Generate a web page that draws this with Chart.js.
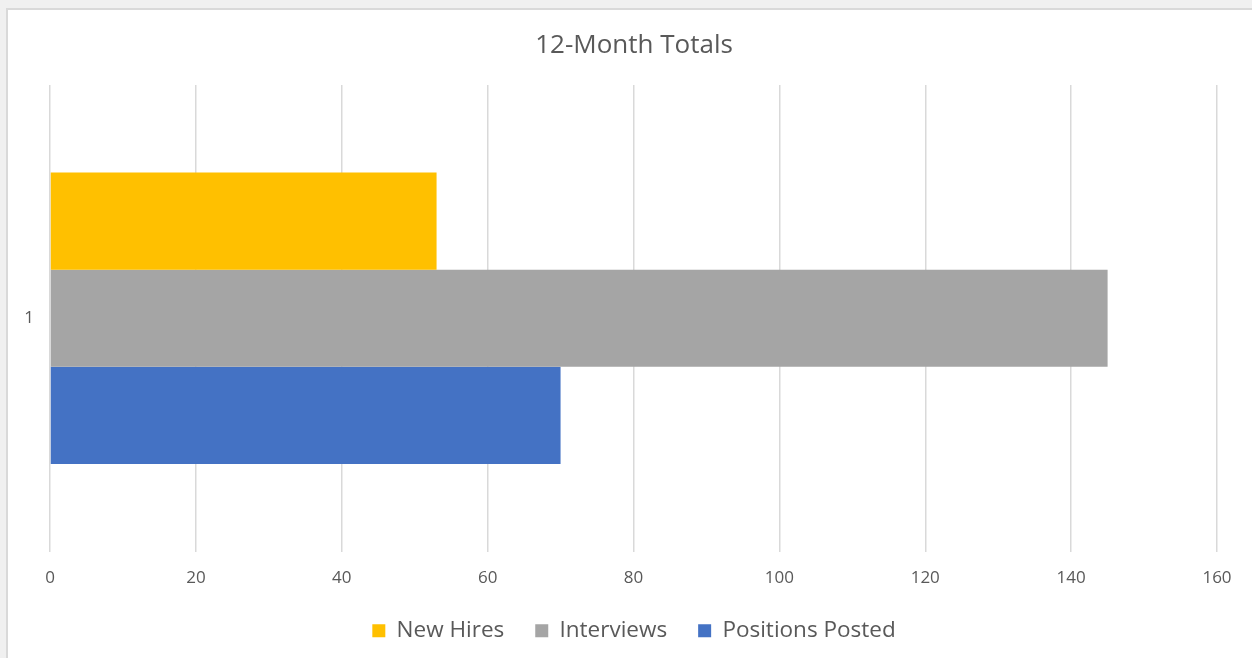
<!DOCTYPE html>
<html>
<head>
<meta charset="utf-8">
<script src="https://cdn.jsdelivr.net/npm/chart.js@4.4.1/dist/chart.umd.min.js"></script>
<style>
  html, body { margin: 0; padding: 0; background: #f0f0f0; }
  #wrap { position: absolute; left: 0; top: 0; width: 1252px; height: 658px; }
  canvas { display: block; }
</style>
</head>
<body>
<div id="wrap"><canvas id="c" width="1252" height="658"></canvas></div>
<script>
const categories = ["1"];
const seriesNames = ["New Hires", "Interviews", "Positions Posted"];
const newHires = [53];
const interviews = [145];
const positionsPosted = [70];
const xTicks = [0, 20, 40, 60, 80, 100, 120, 140, 160];
const colors = ["#FFC000", "#A5A5A5", "#4472C4"];

const frame = {
  id: 'frame',
  beforeDraw(chart) {
    const ctx = chart.ctx;
    ctx.save();
    ctx.fillStyle = '#f0f0f0';
    ctx.fillRect(0, 0, chart.width, chart.height);
    ctx.fillStyle = '#ffffff';
    ctx.fillRect(7, 9, chart.width, chart.height);
    ctx.strokeStyle = '#d9d9d9';
    ctx.lineWidth = 2;
    ctx.beginPath();
    ctx.moveTo(7, chart.height + 2);
    ctx.lineTo(7, 9);
    ctx.lineTo(chart.width + 2, 9);
    ctx.stroke();
    ctx.restore();
  }
};

const font = "'Open Sans', 'Liberation Sans', sans-serif";
const textColor = '#595959';
const LEFT_PAD = 16;

new Chart(document.getElementById('c'), {
  type: 'bar',
  data: {
    labels: categories,
    datasets: [
      { label: seriesNames[0], data: newHires, backgroundColor: colors[0] },
      { label: seriesNames[1], data: interviews, backgroundColor: colors[1] },
      { label: seriesNames[2], data: positionsPosted, backgroundColor: colors[2] }
    ]
  },
  options: {
    indexAxis: 'y',
    responsive: false,
    animation: false,
    devicePixelRatio: 1,
    layout: { padding: { left: LEFT_PAD, right: 0, top: 21, bottom: 6 } },
    datasets: { bar: { barPercentage: 1, categoryPercentage: 0.625 } },
    scales: {
      x: {
        min: 0, max: 160,
        afterBuildTicks(scale) { scale.ticks = xTicks.map(v => ({ value: v })); },
        afterFit(scale) { scale.paddingRight = 35; scale.height = 37; },
        grid: { color: '#d9d9d9', lineWidth: 1.5, drawTicks: false },
        border: { display: false },
        ticks: { color: textColor, font: { family: font, size: 17 }, padding: 16 }
      },
      y: {
        grid: { display: false, drawTicks: false },
        border: { display: false },
        ticks: { color: textColor, font: { family: font, size: 17 }, padding: 16 },
        afterFit(scale) { scale.width = 50 - LEFT_PAD; }
      }
    },
    plugins: {
      title: {
        display: true, text: '12-Month Totals', color: textColor,
        font: { family: font, size: 26, weight: 'normal' },
        padding: { top: 9, bottom: 23.8 }
      },
      legend: {
        position: 'bottom',
        labels: {
          color: textColor, font: { family: font, size: 22.5 },
          boxWidth: 13, boxHeight: 13, padding: 31
        }
      },
      tooltip: { enabled: false }
    }
  },
  plugins: [frame]
});
</script>
</body>
</html>
